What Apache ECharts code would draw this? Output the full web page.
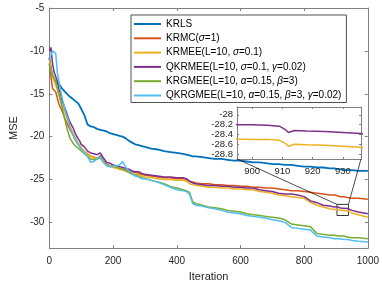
<!DOCTYPE html>
<html><head><meta charset="utf-8">
<script src="https://cdn.jsdelivr.net/npm/echarts@6/dist/echarts.min.js"></script>
<style>html,body{margin:0;padding:0;background:#fff}#c{width:382px;height:287px}</style>
</head><body><div id="c"></div>
<script>
const iterations = [0,5,10,15,20,25,30,35,40,45,50,55,60,65,70,75,80,85,90,95,
  100,110,120,130,140,150,160,170,180,190,
  200,210,220,230,240,250,260,270,280,290,
  300,320,340,360,380,400,420,430,440,450,
  460,480,500,520,540,560,580,600,620,640,
  660,680,700,720,740,760,780,800,820,840,
  860,880,895,900,905,909,911,912,914,918,
  924,930,936,950,970,1000];

const krls = [-10.8,-12.0,-12.9,-13.4,-13.6,-13.7,-13.9,-14.1,-14.4,-14.6,
  -14.8,-15.0,-15.2,-15.4,-15.5,-15.7,-15.8,-16.0,-16.1,-16.4,
  -16.6,-17.5,-18.6,-18.8,-18.9,-19.1,-19.2,-19.3,-19.4,-19.6,
  -19.7,-19.8,-19.9,-20.0,-20.2,-20.5,-20.7,-20.9,-21.0,-21.1,
  -21.2,-21.4,-21.5,-21.7,-21.8,-21.9,-22.0,-22.1,-22.2,-22.3,
  -22.3,-22.4,-22.5,-22.6,-22.6,-22.7,-22.8,-22.8,-22.9,-23.0,
  -23.0,-23.1,-23.2,-23.2,-23.3,-23.3,-23.4,-23.5,-23.5,-23.6,
  -23.6,-23.7,-23.7,-23.7,-23.8,-23.8,-23.8,-23.8,-23.8,-23.8,
  -23.9,-23.9,-23.9,-23.9,-24.0,-24.0];

const krmc = [-11.5,-13.0,-14.4,-14.6,-14.8,-15.5,-16.2,-16.6,-17.0,-17.5,
  -18.0,-18.4,-18.8,-19.2,-19.5,-19.9,-20.3,-20.6,-20.9,-21.0,
  -21.3,-21.8,-22.0,-22.3,-22.4,-22.6,-22.2,-22.8,-23.2,-23.4,
  -23.5,-23.6,-23.7,-23.8,-23.9,-24.0,-24.1,-24.2,-24.3,-24.4,
  -24.5,-24.6,-24.7,-24.8,-24.8,-24.9,-24.9,-25.0,-25.2,-25.3,
  -25.4,-25.5,-25.5,-25.6,-25.6,-25.7,-25.7,-25.8,-25.8,-25.9,
  -25.9,-26.0,-26.0,-26.1,-26.2,-26.3,-26.3,-26.4,-26.5,-26.6,
  -26.7,-26.8,-26.8,-26.9,-26.9,-26.9,-26.9,-27.0,-27.0,-27.0,
  -27.0,-27.1,-27.1,-27.2,-27.2,-27.3];

const krmee = [-11.0,-12.0,-13.0,-13.5,-14.0,-14.5,-15.2,-15.7,-16.3,-16.8,
  -17.3,-17.8,-18.4,-18.8,-19.2,-19.6,-20.0,-20.4,-20.7,-21.0,
  -21.3,-21.7,-22.1,-22.3,-22.5,-22.5,-22.3,-22.9,-23.3,-23.4,
  -23.6,-23.7,-23.8,-23.9,-24.0,-24.1,-24.3,-24.4,-24.4,-24.6,
  -24.7,-24.8,-24.9,-25.0,-25.0,-25.1,-25.1,-25.2,-25.5,-25.6,
  -25.7,-25.8,-25.9,-25.9,-26.0,-26.0,-26.1,-26.1,-26.2,-26.2,
  -26.4,-26.5,-26.6,-26.8,-26.9,-27.0,-27.1,-27.2,-27.7,-28.0,
  -28.2,-28.4,-28.49,-28.5,-28.5,-28.52,-28.58,-28.64,-28.6,-28.61,
  -28.62,-28.64,-28.66,-28.9,-29.1,-29.4];

const qkrmee = [-10.0,-9.6,-11.5,-12.5,-13.0,-13.5,-14.5,-15.0,-15.8,-16.3,
  -16.8,-17.3,-17.9,-18.3,-18.7,-19.0,-19.5,-19.9,-20.2,-20.5,
  -20.9,-21.2,-21.7,-21.9,-22.0,-22.1,-21.9,-22.5,-23.0,-23.1,
  -23.3,-23.4,-23.5,-23.6,-23.7,-23.8,-24.0,-24.1,-24.1,-24.3,
  -24.4,-24.5,-24.6,-24.7,-24.7,-24.8,-24.8,-24.9,-25.2,-25.4,
  -25.5,-25.6,-25.7,-25.7,-25.8,-25.8,-25.9,-25.9,-26.0,-26.0,
  -26.2,-26.3,-26.4,-26.6,-26.7,-26.7,-26.8,-27.0,-27.5,-27.7,
  -28.0,-28.1,-28.2,-28.2,-28.21,-28.23,-28.3,-28.36,-28.32,-28.33,
  -28.34,-28.36,-28.38,-28.6,-28.8,-29.0];

const krgmee = [-11.5,-12.5,-12.8,-12.9,-13.5,-14.3,-15.0,-15.8,-16.6,-17.4,
  -18.2,-19.0,-19.6,-20.2,-20.5,-20.8,-21.0,-21.2,-21.3,-21.5,
  -21.6,-22.0,-22.3,-22.6,-22.7,-22.6,-22.5,-23.0,-23.3,-23.5,
  -23.4,-23.5,-23.7,-23.8,-24.0,-24.2,-24.4,-24.5,-24.6,-24.8,
  -24.9,-25.1,-25.3,-25.5,-25.8,-26.0,-26.2,-26.3,-26.5,-27.6,
  -27.8,-28.0,-28.2,-28.3,-28.4,-28.6,-28.7,-28.8,-29.0,-29.1,
  -29.2,-29.3,-29.4,-29.5,-29.7,-30.2,-30.3,-30.4,-30.5,-31.3,
  -31.4,-31.5,-31.5,-31.5,-31.6,-31.6,-31.6,-31.6,-31.6,-31.6,
  -31.6,-31.7,-31.7,-31.8,-31.8,-31.9];

const qkrgmee = [-10.8,-10.5,-10.0,-10.0,-10.3,-12.5,-13.5,-14.6,-15.5,-16.2,
  -17.0,-17.6,-18.1,-19.0,-19.4,-19.8,-20.2,-20.5,-20.9,-21.1,
  -21.5,-21.9,-22.3,-23.0,-22.9,-22.6,-22.3,-23.0,-23.4,-23.5,
  -23.5,-23.4,-23.3,-22.9,-23.6,-24.0,-24.3,-24.6,-24.7,-24.9,
  -24.9,-25.1,-25.3,-25.6,-25.9,-26.2,-26.3,-26.4,-26.7,-27.8,
  -28.0,-28.1,-28.3,-28.4,-28.6,-28.8,-28.9,-29.0,-29.2,-29.3,
  -29.4,-29.5,-29.7,-29.8,-30.0,-30.6,-30.7,-30.8,-30.9,-31.6,
  -31.7,-31.8,-31.9,-31.9,-31.9,-31.9,-31.9,-31.9,-32.0,-32.0,
  -32.0,-32.0,-32.0,-32.1,-32.2,-32.3];

const seriesNames = ['KRLS','KRMC(σ=1)','KRMEE(L=10, σ=0.1)','QKRMEE(L=10, σ=0.1, γ=0.02)',
  'KRGMEE(L=10, α=0.15, β=3)','QKRGMEE(L=10, α=0.15, β=3, γ=0.02)'];
const seriesValues = [krls, krmc, krmee, qkrmee, krgmee, qkrgmee];
const colors = ['#0072BD','#D95319','#EDB120','#7E2F8E','#77AC30','#4DBEEE'];

const xRange = [0, 1000], xStep = 200;
const yRange = [-33, -5], yStep = 5;
const insetX = [895, 936];
const insetY = [-28.9, -27.84];
const zoomX = [903, 939];
const zoomY = [-27.9, -29.2];

const FONT = 'Liberation Sans, Arial, Helvetica, sans-serif';
const AX = '#808080', TXT = '#262626';

function axisBase(extra){
  return Object.assign({
    axisLine:{show:true,onZero:false,lineStyle:{color:AX,width:1}},
    axisTick:{show:true,inside:true,length:3,lineStyle:{color:AX,width:1}},
    splitLine:{show:false},
    axisLabel:{color:TXT,fontFamily:FONT,fontSize:10,showMinLabel:false,showMaxLabel:true}
  }, extra);
}
const plain = v => String(Math.round(v*1000)/1000);

const chart = echarts.init(document.getElementById('c'), null, {renderer:'canvas'});

const pairs = arr => iterations.map((x,i)=>[x, arr[i]]);

const series = seriesValues.map((vals,i)=>({
  name: seriesNames[i], type:'line', xAxisIndex:0, yAxisIndex:0,
  data: pairs(vals), symbol:'none', showSymbol:false,
  lineStyle:{color:colors[i], width: i===0?1.8:1.5}, itemStyle:{color:colors[i]},
  z: 2+i
}));
series[0].markArea = {
  silent:true,
  itemStyle:{color:'rgba(0,0,0,0)', borderColor:'#000', borderWidth:0.8},
  data:[[{xAxis:zoomX[0], yAxis:zoomY[0]},{xAxis:zoomX[1], yAxis:zoomY[1]}]]
};
[2,3].forEach(i=>{
  series.push({
    name: seriesNames[i], type:'line', xAxisIndex:2, yAxisIndex:2,
    data: pairs(seriesValues[i]), symbol:'none', showSymbol:false, clip:true,
    lineStyle:{color:colors[i], width:1.5}, itemStyle:{color:colors[i]}, z:20
  });
});

const greek = s => s.replace(/([σαβγ])/g, '{g|$1}');

chart.setOption({
  animation:false,
  backgroundColor:'#fff',
  textStyle:{fontFamily:FONT},
  grid:[
    {left:38, top:8, width:331, height:244},
    {left:237, top:107, width:124, height:52, show:true, backgroundColor:'#fff', borderWidth:0, z:10}
  ],
  xAxis:[
    axisBase({type:'value', gridIndex:0, position:'bottom', min:xRange[0], max:xRange[1], interval:xStep,
      name:'Iteration', nameLocation:'middle', nameGap:21,
      nameTextStyle:{color:TXT,fontFamily:FONT,fontSize:11},
      axisLabel:{color:TXT,fontFamily:FONT,fontSize:10,margin:8,formatter:plain}}),
    axisBase({type:'value', gridIndex:0, position:'top', min:xRange[0], max:xRange[1], interval:xStep,
      axisLabel:{show:false}}),
    axisBase({type:'value', gridIndex:1, position:'bottom', min:insetX[0], max:insetX[1], minInterval:10, maxInterval:10,
      axisTick:{show:true,inside:true,length:2,lineStyle:{color:AX}},
      axisLabel:{color:TXT,fontFamily:FONT,fontSize:9.5,margin:7,showMinLabel:false,showMaxLabel:false,formatter:plain}, z:11}),
    axisBase({type:'value', gridIndex:1, position:'top', min:insetX[0], max:insetX[1], minInterval:10, maxInterval:10,
      axisTick:{show:true,inside:true,length:2,lineStyle:{color:AX}},
      axisLabel:{show:false}, z:11})
  ],
  yAxis:[
    axisBase({type:'value', gridIndex:0, position:'left', min:yRange[0], max:yRange[1], minInterval:yStep, maxInterval:yStep,
      name:'MSE', nameLocation:'middle', nameGap:28,
      nameTextStyle:{color:TXT,fontFamily:FONT,fontSize:11},
      axisLabel:{color:TXT,fontFamily:FONT,fontSize:10,margin:5,showMinLabel:false,showMaxLabel:true,formatter:plain}}),
    axisBase({type:'value', gridIndex:0, position:'right', min:yRange[0], max:yRange[1], minInterval:yStep, maxInterval:yStep,
      axisLabel:{show:false}}),
    axisBase({type:'value', gridIndex:1, position:'left', min:insetY[0], max:insetY[1], minInterval:0.2, maxInterval:0.2,
      axisTick:{show:true,inside:true,length:2,lineStyle:{color:AX}},
      axisLabel:{color:TXT,fontFamily:FONT,fontSize:9.5,margin:4,showMinLabel:false,showMaxLabel:false,formatter:plain}, z:11}),
    axisBase({type:'value', gridIndex:1, position:'right', min:insetY[0], max:insetY[1], minInterval:0.2, maxInterval:0.2,
      axisTick:{show:true,inside:true,length:2,lineStyle:{color:AX}},
      axisLabel:{show:false}, z:11})
  ],
  legend:{
    data:seriesNames, orient:'vertical', left:131, top:15,
    backgroundColor:'#fff', borderColor:'#262626', borderWidth:0.8,
    padding:[4,5,2,3], itemGap:4.3, itemWidth:27, itemHeight:10,
    icon:'path://M0,0H135V10H0Z', symbolKeepAspect:true,
    textStyle:{color:'#000',fontFamily:FONT,fontSize:10,lineHeight:10,
      rich:{g:{fontStyle:'italic',fontFamily:FONT,fontSize:10,lineHeight:10,color:'#000'}}},
    formatter: n => greek(n),
    selectedMode:false, z:30
  },
  series: series
});

const a = chart.convertToPixel({xAxisIndex:2,yAxisIndex:2},[insetX[0],insetY[0]]);
const b = chart.convertToPixel({xAxisIndex:2,yAxisIndex:2},[insetX[1],insetY[0]]);
const c = chart.convertToPixel({xAxisIndex:0,yAxisIndex:0},[zoomX[0],zoomY[0]]);
const d = chart.convertToPixel({xAxisIndex:0,yAxisIndex:0},[zoomX[1],zoomY[0]]);
chart.setOption({graphic:[
  {type:'line', z:50, shape:{x1:a[0],y1:a[1],x2:c[0],y2:c[1]}, style:{stroke:'#000',lineWidth:0.7}},
  {type:'line', z:50, shape:{x1:b[0],y1:b[1],x2:d[0],y2:d[1]}, style:{stroke:'#000',lineWidth:0.7}}
]});
</script></body></html>
